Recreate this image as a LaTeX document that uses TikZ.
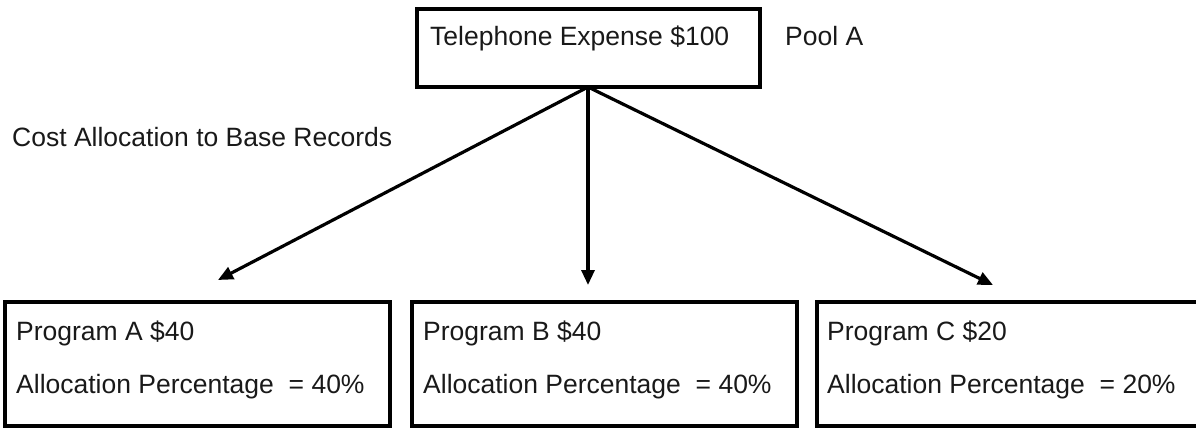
\documentclass[tikz,border=0pt]{standalone}
\usepackage{fontspec}
\setmainfont{Liberation Sans}
\usetikzlibrary{arrows.meta}
\begin{document}
\begin{tikzpicture}[x=1pt,y=-1pt,
  box/.style={draw=black,line width=3.5pt,rectangle,inner sep=0pt},
  lbl/.style={anchor=base west,inner sep=0pt,font=\fontsize{26.5}{30}\selectfont,text=black!90},
  conn/.style={line width=3.2pt,-{Triangle[length=15pt,width=13pt]}}]
\useasboundingbox (0,0) rectangle (1196,428);
\node[box,minimum width=343pt,minimum height=78pt] (top) at (588.5,48) {};
\node[lbl] (toptxt) at (430,46) {Telephone Expense \$100};
\node[lbl] (pool) at (785,46) {Pool A};
\node[lbl] (cost) at (12,146) {Cost Allocation to Base Records};
\node[box,minimum width=385pt,minimum height=124pt] (ba) at (197.5,364) {};
\node[box,minimum width=385pt,minimum height=124pt] (bb) at (604.5,364) {};
\node[box,minimum width=393pt,minimum height=124pt] (bc) at (1013.5,364) {};
\node[lbl] (ta1) at (16,340) {Program A \$40};
\node[lbl] (ta2) at (16,393) {Allocation Percentage ~= 40\%};
\node[lbl] (tb1) at (423,340) {Program B \$40};
\node[lbl] (tb2) at (423,393) {Allocation Percentage ~= 40\%};
\node[lbl] (tc1) at (827,340) {Program C \$20};
\node[lbl] (tc2) at (827,393) {Allocation Percentage ~= 20\%};
\coordinate (src) at (588,87);
\coordinate (ea) at (218,280);
\coordinate (eb) at (588,285);
\coordinate (ec) at (993,285);
\draw[conn] (src) -- (ea);
\draw[conn] (src) -- (eb);
\draw[conn] (src) -- (ec);
\end{tikzpicture}
\end{document}
